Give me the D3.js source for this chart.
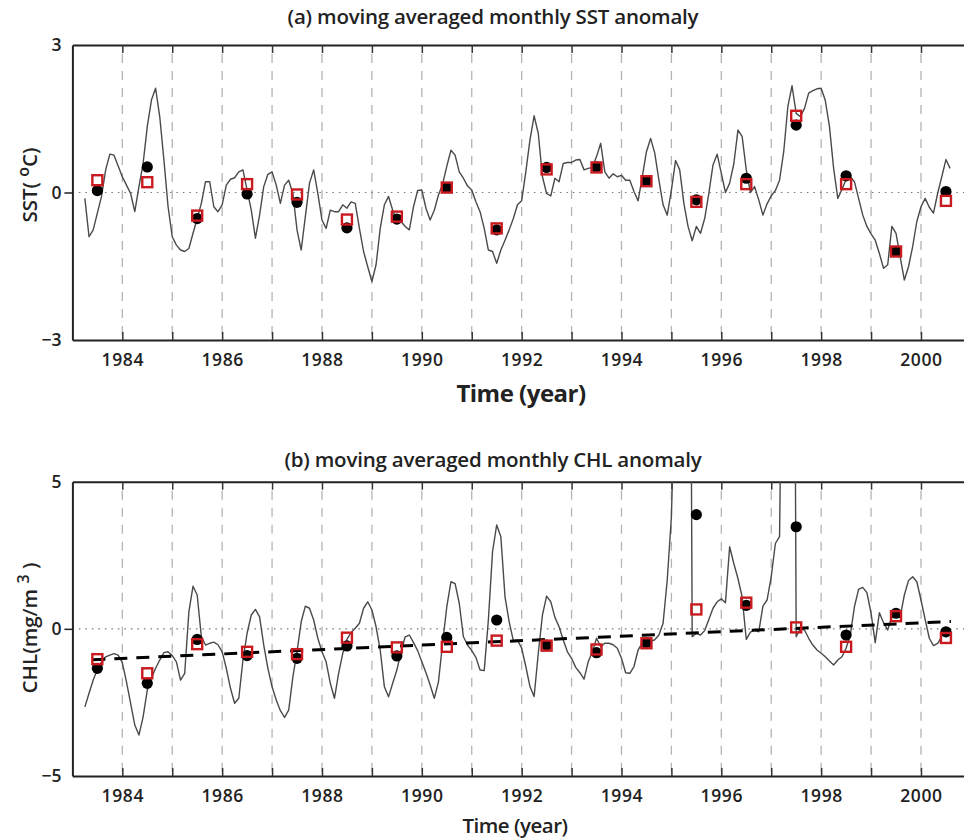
<!DOCTYPE html>
<html lang="en">
<head>
<meta charset="UTF-8">
<title>Moving averaged monthly SST and CHL anomaly</title>
<script src="https://cdn.jsdelivr.net/npm/d3@7"></script>
<style>
  body { margin: 0; background: #fff; }
  svg { font-family: "Open Sans", sans-serif; }
</style>
</head>
<body>
<script>
// monthly series, first value is April 1983
const startYear = 1983.25;

const sstMonthly = [
  -0.12,-0.90,-0.76,-0.42,-0.08,0.46,0.78,0.76,0.54,0.32,
  0.15,-0.02,-0.39,0.12,0.59,1.34,1.88,2.12,1.54,0.66,
  -0.29,-0.90,-1.07,-1.17,-1.20,-1.14,-0.83,-0.53,-0.22,0.22,
  0.22,-0.29,-0.39,-0.25,0.15,0.27,0.30,0.42,0.46,0.05,
  -0.36,-0.93,-0.46,0.12,0.37,0.42,0.15,-0.22,0.15,0.25,
  -0.02,-0.76,-1.17,-0.49,0.19,0.46,-0.02,-0.56,-0.73,-0.36,
  -0.39,-0.39,-0.25,-0.32,-0.19,-0.22,-0.73,-1.20,-1.51,-1.81,
  -1.47,-0.73,-0.25,-0.08,-0.36,-0.59,-0.59,-0.69,-0.76,-0.29,
  0.04,0.05,-0.32,-0.56,-0.36,-0.05,0.17,0.53,0.86,0.76,
  0.42,0.29,0.13,0.05,-0.19,-0.39,-0.73,-1.17,-1.20,-1.44,
  -1.17,-0.97,-0.76,-0.53,-0.25,-0.17,0.42,1.07,1.56,1.20,
  0.32,-0.02,-0.07,0.29,0.22,0.59,0.61,0.61,0.66,0.67,
  0.46,0.49,0.51,0.73,1.00,0.42,0.29,0.38,0.32,0.35,
  0.25,0.25,0.02,-0.17,0.32,0.83,1.10,0.80,0.25,-0.25,
  -0.46,0.05,0.65,0.46,-0.22,-0.69,-0.98,-0.69,-0.83,-0.53,
  -0.02,0.56,0.78,0.39,0.00,0.19,0.58,1.27,1.14,0.46,
  0.00,0.12,-0.15,-0.46,-0.23,-0.07,0.04,0.25,0.83,1.75,
  2.17,1.61,1.54,1.71,2.02,2.07,2.11,2.12,1.87,1.34,
  0.49,-0.12,0.06,0.27,0.32,0.22,-0.12,-0.46,-0.69,-0.84,
  -0.97,-1.24,-1.54,-1.47,-0.69,-0.83,-1.31,-1.78,-1.51,-1.10,
  -0.59,-0.29,-0.12,-0.30,-0.42,-0.02,0.32,0.67,0.49
];

// values above 5 run off the top of the frame
const chlMonthly = [
  -2.65,-2.19,-1.74,-1.38,-1.12,-0.95,-0.89,-0.84,-0.89,-1.15,
  -1.80,-2.53,-3.27,-3.61,-2.99,-2.08,-1.68,-1.34,-1.06,-0.81,
  -0.78,-0.91,-1.12,-1.74,-1.51,0.58,1.45,1.15,-0.27,-0.55,
  -0.49,-0.45,-0.54,-0.78,-1.34,-2.02,-2.53,-2.36,-1.06,-0.15,
  0.47,0.66,0.41,-0.55,-1.34,-1.97,-2.42,-2.78,-3.01,-2.76,
  -1.63,-0.78,0.24,0.77,0.70,0.30,-0.32,-0.78,-1.12,-1.85,
  -2.36,-1.51,-0.83,-0.36,-0.12,0.02,0.19,0.70,0.92,0.64,
  0.07,-0.72,-1.97,-2.31,-1.85,-1.40,-0.78,-0.27,-0.21,-0.47,
  -0.74,-1.12,-1.49,-1.91,-2.36,-1.80,-0.49,0.75,1.60,1.54,
  0.87,-0.27,-0.55,-0.74,-0.97,-1.40,-1.42,0.30,2.62,3.53,
  3.13,1.09,0.24,-0.40,-0.38,-0.66,-1.28,-1.96,-2.30,-0.83,
  0.47,1.11,0.92,0.39,0.07,-0.38,-0.78,-1.00,-1.31,-1.49,
  -1.71,-1.12,-0.78,-0.32,-0.61,-0.49,-0.49,-0.54,-0.66,-1.00,
  -1.49,-1.51,-1.28,-0.72,-0.47,-0.40,-0.43,-0.37,-0.21,0.19,
  1.66,3.81,9,12,15,30,-0.27,-0.15,-0.21,-0.06,
  0.32,0.70,0.92,1.02,0.89,2.79,2.22,1.71,1.09,-0.36,
  -0.11,-0.04,-0.10,0.77,0.98,1.77,2.90,3.13,15,20,
  30,-0.27,0.02,-0.04,-0.32,-0.55,-0.72,-0.83,-0.95,-1.09,
  -1.23,-1.06,-0.95,-0.66,-0.21,0.75,1.34,1.41,1.23,0.53,
  -0.47,0.55,0.21,-0.04,0.41,0.39,0.41,1.15,1.64,1.77,
  1.60,0.98,0.32,-0.32,-0.57,-0.49,-0.27
];

const markerYears = [1983.5,1984.5,1985.5,1986.5,1987.5,1988.5,1989.5,1990.5,1991.5,
                     1992.5,1993.5,1994.5,1995.5,1996.5,1997.5,1998.5,1999.5,2000.5];
const sstCircles = [0.04,0.52,-0.53,-0.03,-0.20,-0.72,-0.54,0.10,-0.76,
                    0.51,0.52,0.23,-0.15,0.29,1.37,0.34,-1.20,0.02];
const sstSquares = [0.25,0.21,-0.47,0.17,-0.04,-0.55,-0.49,0.10,-0.73,
                    0.47,0.51,0.23,-0.19,0.17,1.56,0.17,-1.20,-0.17];
const chlCircles = [-1.34,-1.85,-0.36,-0.91,-1.00,-0.58,-0.92,-0.29,0.30,
                    -0.55,-0.81,-0.47,3.88,0.80,3.47,-0.21,0.53,-0.10];
const chlSquares = [-1.03,-1.51,-0.52,-0.78,-0.86,-0.30,-0.63,-0.61,-0.40,
                    -0.57,-0.70,-0.49,0.66,0.89,0.05,-0.61,0.43,-0.31];

const trendYears = [1983.4, 2000.6];
const trendValues = [-1.05, 0.25];

const gridYears = [1984,1985,1986,1987,1988,1989,1990,1991,1992,1993,1994,1995,1996,1997,1998,1999,2000];
const labelYears = [1984,1986,1988,1990,1992,1994,1996,1998,2000];

const width = 964, height = 839;
const svg = d3.select("body").append("svg")
    .attr("width", width)
    .attr("height", height);

const x = d3.scaleLinear().domain([1983, 2001]).range([72.4, 970.9]);

const panels = [
  { id: "a", top: 45, bottom: 340, domain: [-3, 3], ticks: [-3, 0, 3],
    title: "(a) moving averaged monthly SST anomaly", titleY: 24,
    xlabelY: 402, xlabelSize: 24, xlabelWeight: 700, xlabelX: 521, tickLabelY: 366,
    line: sstMonthly, circles: sstCircles, squares: sstSquares, trend: false },
  { id: "b", top: 481.7, bottom: 776, domain: [-5, 5], ticks: [-5, 0, 5],
    title: "(b) moving averaged monthly CHL anomaly", titleY: 467,
    xlabelY: 833, xlabelSize: 20.5, xlabelWeight: 600, xlabelX: 515, tickLabelY: 802,
    line: chlMonthly, circles: chlCircles, squares: chlSquares, trend: true }
];

const tickFont = sel => sel
  .attr("fill", "#222")
  .style("font-size", "17.5px").style("font-weight", 600)
  .style("letter-spacing", "0.6px")
  .style("font-family", "'Open Sans', sans-serif");

panels.forEach(p => {
  const y = d3.scaleLinear().domain(p.domain).range([p.bottom, p.top]);
  const g = svg.append("g");

  g.append("clipPath").attr("id", "clip-" + p.id)
    .append("rect")
    .attr("x", x(1983)).attr("y", p.top)
    .attr("width", x(2001) - x(1983)).attr("height", p.bottom - p.top);

  // dashed year lines
  g.append("g").selectAll("line")
    .data(gridYears)
    .join("line")
    .attr("x1", d => x(d)).attr("x2", d => x(d))
    .attr("y1", p.top + 9).attr("y2", p.bottom)
    .attr("stroke", "#b4b4b4")
    .attr("stroke-width", 1.3)
    .attr("stroke-dasharray", "9,8");

  // zero line
  g.append("line")
    .attr("x1", x(1983)).attr("x2", width)
    .attr("y1", y(0)).attr("y2", y(0))
    .attr("stroke", "#777")
    .attr("stroke-width", 1.2)
    .attr("stroke-dasharray", "1.5,5");

  // bottom axis with labels
  g.append("g")
    .attr("transform", `translate(0,${p.bottom})`)
    .call(d3.axisBottom(x).tickValues(gridYears).tickSize(-8).tickSizeOuter(0)
      .tickFormat(d => labelYears.includes(d) ? d : ""))
    .call(ax => {
      ax.select(".domain").attr("stroke", "#222").attr("stroke-width", 2);
      ax.selectAll(".tick line").attr("stroke", "#333").attr("stroke-width", 1.5);
      ax.selectAll(".tick text")
        .attr("y", p.tickLabelY - p.bottom).attr("dy", 0)
        .call(tickFont);
    });

  // top axis, ticks only
  g.append("g")
    .attr("transform", `translate(0,${p.top})`)
    .call(d3.axisTop(x).tickValues(gridYears).tickSize(-8).tickSizeOuter(0).tickFormat(""))
    .call(ax => {
      ax.select(".domain").attr("stroke", "#222").attr("stroke-width", 2);
      ax.selectAll(".tick line").attr("stroke", "#333").attr("stroke-width", 1.5);
    });

  // left axis
  g.append("g")
    .attr("transform", `translate(${x(1983)},0)`)
    .call(d3.axisLeft(y).tickValues(p.ticks).tickSize(8).tickSizeOuter(0)
      .tickFormat(d => d < 0 ? "\u2212" + Math.abs(d) : d))
    .call(ax => {
      ax.select(".domain").attr("stroke", "#222").attr("stroke-width", 2);
      ax.selectAll(".tick line").attr("stroke", "#222").attr("stroke-width", 1.5)
        .filter(d => d !== 0).remove();
      ax.selectAll(".tick text")
        .attr("x", -11)
        .call(tickFont)
        .style("letter-spacing", "0px");
    });

  // monthly line
  const line = d3.line()
    .x((d, i) => x(startYear + i / 12))
    .y(d => y(d));

  g.append("path")
    .datum(p.line)
    .attr("clip-path", `url(#clip-${p.id})`)
    .attr("fill", "none")
    .attr("stroke", "#4a4a4a")
    .attr("stroke-width", 1.4)
    .attr("stroke-linejoin", "round")
    .attr("d", line);

  if (p.trend) {
    g.append("path")
      .datum(trendYears.map((t, i) => [t, trendValues[i]]))
      .attr("fill", "none")
      .attr("stroke", "#000")
      .attr("stroke-width", 3)
      .attr("stroke-dasharray", "13,9")
      .attr("d", d3.line().x(d => x(d[0])).y(d => y(d[1])));
  }

  // black circles
  g.append("g").selectAll("circle")
    .data(p.circles)
    .join("circle")
    .attr("cx", (d, i) => x(markerYears[i]))
    .attr("cy", d => y(d))
    .attr("r", 5.6)
    .attr("fill", "#000");

  // red open squares
  g.append("g").selectAll("rect")
    .data(p.squares)
    .join("rect")
    .attr("x", (d, i) => x(markerYears[i]) - 5)
    .attr("y", d => y(d) - 5)
    .attr("width", 10)
    .attr("height", 10)
    .attr("fill", "none")
    .attr("stroke", "#c81a1f")
    .attr("stroke-width", 2.4);

  // title
  svg.append("text")
    .attr("x", 493).attr("y", p.titleY)
    .attr("text-anchor", "middle")
    .attr("fill", "#222")
    .style("font-size", "20.5px").style("font-weight", 600)
    .style("letter-spacing", "-0.2px")
    .text(p.title);

  // x label
  svg.append("text")
    .attr("x", p.xlabelX).attr("y", p.xlabelY)
    .attr("text-anchor", "middle")
    .attr("fill", "#222")
    .style("font-size", p.xlabelSize + "px").style("font-weight", p.xlabelWeight)
    .style("letter-spacing", "-0.5px")
    .text("Time (year)");
});

// y labels
const ya = svg.append("text")
  .attr("transform", "translate(37,185) rotate(-90)")
  .attr("text-anchor", "middle")
  .attr("fill", "#222")
  .style("font-size", "20.5px").style("font-weight", 600);
ya.append("tspan").text("SST( ");
ya.append("tspan").attr("dy", -8).style("font-size", "16px").text("o");
ya.append("tspan").attr("dy", 8).text("C)");

const yb = svg.append("text")
  .attr("transform", "translate(37,628) rotate(-90)")
  .attr("text-anchor", "middle")
  .attr("fill", "#222")
  .style("font-size", "20.5px").style("font-weight", 600);
yb.append("tspan").text("CHL(mg/m ");
yb.append("tspan").attr("dy", -8).style("font-size", "16px").text("3");
yb.append("tspan").attr("dy", 8).text(" )");
</script>
</body>
</html>
